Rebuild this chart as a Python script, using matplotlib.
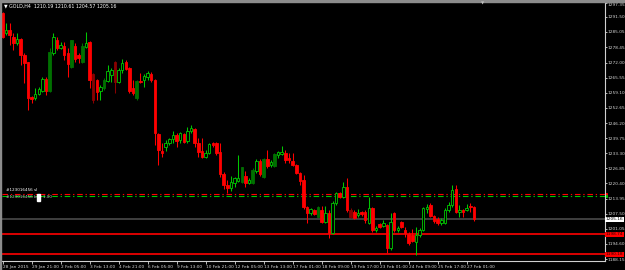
import numpy as np
import matplotlib
matplotlib.use('Agg')
from matplotlib import pyplot as plt
from matplotlib.patches import Rectangle

plt.rcParams['font.family'] = ['Liberation Sans Narrow', 'DejaVu Sans']

# GOLD H4 candles (open, high, low, close)
opens = [1293.2, 1284.6, 1285.9, 1282.9, 1280.3, 1282.1, 1275.2, 1272.2, 1257.3, 1256.9,
         1258.6, 1259.9, 1265.0, 1259.9, 1276.1, 1281.6, 1278.2, 1279.1, 1276.1, 1270.1,
         1279.1, 1275.2, 1272.2, 1278.6, 1280.8, 1267.1, 1264.6, 1259.9, 1261.1, 1264.1,
         1266.7, 1272.2, 1263.7, 1268.8, 1272.2, 1269.7, 1261.1, 1256.9, 1264.1, 1264.6,
         1265.8, 1267.1, 1264.6, 1241.5, 1234.3, 1236.0, 1237.7, 1239.4, 1241.1, 1238.9,
         1241.5, 1238.5, 1242.8, 1243.6, 1237.7, 1234.3, 1231.7, 1233.4, 1237.7, 1237.7,
         1233.8, 1224.4, 1219.7, 1218.5, 1220.6, 1221.4, 1221.0, 1223.6, 1220.6, 1220.6,
         1225.7, 1230.0, 1223.2, 1230.8, 1228.3, 1227.9, 1232.5, 1233.0, 1233.4, 1231.3,
         1230.0, 1228.3, 1224.9, 1221.9, 1210.4, 1207.8, 1209.1, 1206.1, 1209.1, 1204.0,
         1207.8, 1199.3, 1212.1, 1216.3, 1214.6, 1218.9, 1209.1, 1208.2, 1206.9, 1208.2,
         1208.2, 1203.5, 1209.9, 1200.5, 1203.1, 1202.2, 1202.7, 1192.9, 1207.8, 1200.5,
         1204.0, 1200.5, 1198.8, 1198.4, 1195.4, 1198.4, 1200.5, 1209.5, 1211.2, 1206.5,
         1205.2, 1203.5, 1203.5, 1209.1, 1211.2, 1218.0, 1208.2, 1209.1, 1209.1, 1210.6,
         1210.19]
highs = [1293.6, 1288.9, 1288.9, 1284.6, 1284.6, 1282.5, 1276.1, 1272.2, 1257.8, 1261.1,
         1261.6, 1265.8, 1265.8, 1278.2, 1284.6, 1282.9, 1280.8, 1280.8, 1278.2, 1281.6,
         1280.3, 1276.1, 1280.3, 1285.0, 1281.2, 1267.5, 1265.0, 1262.4, 1265.4, 1271.0,
         1269.7, 1272.6, 1269.7, 1273.5, 1273.1, 1270.1, 1264.6, 1264.6, 1267.5, 1267.1,
         1268.4, 1268.0, 1265.0, 1241.9, 1237.7, 1238.9, 1239.8, 1242.8, 1241.9, 1242.4,
         1241.9, 1244.5, 1245.3, 1244.1, 1239.8, 1239.8, 1234.7, 1237.7, 1238.1, 1238.1,
         1237.7, 1225.3, 1221.9, 1223.6, 1223.2, 1232.5, 1227.4, 1225.7, 1222.7, 1227.0,
         1230.8, 1230.8, 1231.3, 1234.7, 1230.4, 1233.4, 1234.3, 1236.4, 1234.7, 1233.4,
         1233.4, 1228.7, 1225.3, 1224.0, 1210.8, 1209.9, 1209.5, 1210.8, 1210.8, 1210.8,
         1209.1, 1212.9, 1216.8, 1216.8, 1221.0, 1222.7, 1209.9, 1209.1, 1209.5, 1208.6,
         1209.1, 1214.6, 1210.4, 1202.2, 1203.5, 1204.8, 1203.1, 1207.8, 1208.2, 1202.2,
         1204.4, 1201.8, 1199.7, 1201.0, 1201.8, 1201.4, 1210.4, 1211.6, 1212.1, 1206.9,
         1206.1, 1205.7, 1209.9, 1212.5, 1219.7, 1219.7, 1211.2, 1209.5, 1211.6, 1212.1,
         1210.61]
lows = [1282.5, 1283.8, 1279.5, 1277.4, 1279.5, 1271.0, 1263.3, 1251.7, 1254.7, 1256.0,
        1258.2, 1259.4, 1258.2, 1259.4, 1275.2, 1277.4, 1277.8, 1273.1, 1265.8, 1269.7,
        1272.2, 1271.8, 1271.8, 1278.2, 1261.1, 1254.7, 1256.0, 1256.0, 1260.3, 1263.7,
        1263.7, 1259.0, 1263.3, 1267.5, 1268.8, 1259.0, 1258.2, 1256.0, 1263.3, 1261.6,
        1264.6, 1263.7, 1236.8, 1228.3, 1231.7, 1234.3, 1236.8, 1237.7, 1236.0, 1237.7,
        1237.7, 1237.7, 1241.9, 1236.0, 1231.7, 1231.3, 1231.3, 1233.0, 1236.0, 1232.5,
        1223.2, 1218.0, 1216.3, 1217.2, 1218.9, 1221.0, 1220.6, 1218.9, 1220.2, 1220.2,
        1224.9, 1223.6, 1222.7, 1227.0, 1227.4, 1227.4, 1231.3, 1232.5, 1229.1, 1229.1,
        1227.9, 1224.4, 1219.7, 1209.5, 1203.5, 1206.9, 1206.9, 1206.1, 1203.5, 1203.5,
        1197.1, 1198.8, 1211.2, 1214.2, 1214.2, 1208.2, 1205.7, 1205.2, 1206.1, 1206.5,
        1203.5, 1203.1, 1199.7, 1199.7, 1201.4, 1201.8, 1190.7, 1192.0, 1199.7, 1199.7,
        1201.4, 1197.5, 1194.1, 1195.4, 1189.9, 1197.5, 1200.1, 1207.8, 1206.1, 1203.5,
        1202.7, 1202.7, 1203.1, 1208.2, 1210.4, 1207.8, 1206.1, 1206.1, 1208.6, 1208.2,
        1204.57]
closes = [1282.9, 1285.9, 1283.8, 1280.3, 1282.1, 1275.2, 1271.8, 1256.9, 1256.4, 1258.6,
          1260.7, 1265.0, 1259.9, 1276.5, 1282.9, 1278.2, 1279.5, 1275.2, 1271.4, 1281.6,
          1273.5, 1273.9, 1279.1, 1280.3, 1264.6, 1256.0, 1259.4, 1261.6, 1264.6, 1268.4,
          1268.8, 1263.7, 1268.8, 1271.8, 1269.2, 1259.9, 1259.0, 1264.1, 1263.7, 1266.3,
          1267.5, 1264.6, 1241.9, 1234.7, 1233.4, 1237.7, 1239.4, 1241.1, 1238.5, 1241.9,
          1238.1, 1242.8, 1244.1, 1237.7, 1233.8, 1231.7, 1233.4, 1237.2, 1236.8, 1233.4,
          1224.4, 1219.7, 1218.5, 1221.0, 1222.7, 1222.7, 1227.4, 1220.6, 1221.9, 1226.2,
          1230.0, 1224.4, 1230.8, 1227.9, 1229.6, 1233.0, 1233.8, 1233.8, 1230.4, 1230.4,
          1228.3, 1224.9, 1221.4, 1210.4, 1207.8, 1209.5, 1207.4, 1210.4, 1204.0, 1207.8,
          1199.3, 1212.1, 1216.3, 1214.6, 1218.9, 1209.1, 1206.1, 1205.7, 1207.8, 1207.4,
          1204.8, 1209.9, 1200.5, 1201.4, 1201.8, 1203.5, 1192.9, 1204.0, 1200.5, 1201.4,
          1201.8, 1199.3, 1195.0, 1195.8, 1198.4, 1200.5, 1209.9, 1210.4, 1206.5, 1204.4,
          1203.5, 1204.8, 1209.1, 1211.2, 1217.6, 1208.2, 1209.1, 1208.2, 1209.9, 1210.2,
          1205.16]
# candles that are drawn in the darker shade
dim_bars = [13, 19, 22, 25, 28, 31, 37, 66, 69, 72, 75, 87, 96]

time_labels = ['28 Jan 2015', '29 Jan 21:00', '2 Feb 05:00', '3 Feb 13:00', '4 Feb 21:00',
               '6 Feb 05:00', '9 Feb 13:00', '10 Feb 21:00', '12 Feb 05:00', '13 Feb 13:00',
               '17 Feb 01:00', '18 Feb 09:00', '19 Feb 17:00', '23 Feb 01:00', '24 Feb 09:00',
               '25 Feb 17:00', '27 Feb 01:00']
label_step = 8

price_ticks = [1297.35, 1291.50, 1285.05, 1278.45, 1272.00, 1265.55, 1259.10, 1252.65,
               1246.20, 1239.75, 1233.30, 1226.85, 1220.40, 1213.95, 1207.50, 1201.05,
               1194.60, 1188.15]

bid_price = 1205.16
red_levels = [1198.74, 1190.18]
sl_level = 1215.77
entry_level = 1215.05

GREEN = '#00c800'
RED = '#ff0000'
DIM_GREEN = '#007000'
DIM_RED = '#8a0000'
FS = 3.1

fig = plt.figure(figsize=(6.25, 2.7), dpi=100, facecolor='black')
W, H = 625, 270
ax = fig.add_axes([2 / W, 1 - 261 / H, (604.5 - 2) / W, (261 - 3) / H])
ax.set_facecolor('black')

o = np.array(opens)
h = np.array(highs)
l = np.array(lows)
c = np.array(closes)
idx = np.arange(len(o))
up = c >= o

for i in idx:
    dim = i in dim_bars
    if up[i]:
        col = DIM_GREEN if dim else GREEN
        face = DIM_GREEN if dim else 'black'
    else:
        col = DIM_RED if dim else RED
        face = col
    ax.vlines(i, l[i], h[i], color=col, linewidth=0.75, zorder=3)
    lo_b = min(o[i], c[i])
    hi_b = max(o[i], c[i])
    height = max(hi_b - lo_b, 0.3)
    ax.bar(i, height, bottom=lo_b, width=0.7, color=face, edgecolor=col,
           linewidth=0.6, zorder=4)

# horizontal levels
ax.axhline(sl_level, color=RED, linewidth=0.8, linestyle=(0, (5, 2.5, 1.2, 2.5)), zorder=2)
ax.axhline(entry_level, color=GREEN, linewidth=0.8, linestyle=(0, (5, 2.5, 1.2, 2.5)), zorder=2)
ax.axhline(bid_price, color='#4a4a4a', linewidth=1.2, zorder=1)
for lv in red_levels:
    ax.axhline(lv, color=RED, linewidth=1.2, zorder=2)

ax.text(1.0, sl_level + 1.4, '#123016456 sl', color='white', fontsize=3.0, zorder=6)
ax.text(1.0, entry_level - 0.8, '#123016456 buy 1.00', color='#bbbbbb', fontsize=3.0, zorder=6)
ax.add_patch(Rectangle((9.4, entry_level - 2.0), 0.9, 2.8, color='white', zorder=6))

ax.set_xlim(-0.14, 166.0)
ax.set_ylim(1187.3, 1297.42)

# axes styling
for s in ['left', 'top']:
    ax.spines[s].set_visible(False)
for s in ['right', 'bottom']:
    ax.spines[s].set_color('#d0d0d0')
    ax.spines[s].set_linewidth(0.8)

ax.yaxis.tick_right()
ax.set_yticks(price_ticks)
ax.set_yticklabels([f'{p:.2f}' for p in price_ticks])
ax.tick_params(axis='y', colors='#d8d8d8', labelsize=FS, length=1.5, width=0.6, pad=0.8)
ax.get_yticklabels()[0].set_verticalalignment('top')

xt = np.arange(len(time_labels)) * label_step
ax.set_xticks(xt)
ax.set_xticklabels(time_labels)
ax.tick_params(axis='x', colors='#d8d8d8', labelsize=FS, length=2, width=0.6, pad=0.6)
for t in ax.get_xticklabels():
    t.set_horizontalalignment('left')

# price tags on the right scale
tr = ax.get_yaxis_transform()
ax.text(1.002, bid_price, f'{bid_price:.2f}', transform=tr, fontsize=FS, color='black',
        va='center', ha='left', clip_on=False, zorder=8,
        bbox=dict(boxstyle='square,pad=0.15', fc='white', ec='none'))
for lv in red_levels:
    ax.text(1.002, lv, f'{lv:.2f}', transform=tr, fontsize=FS, color='#300000',
            va='center', ha='left', clip_on=False, zorder=8,
            bbox=dict(boxstyle='square,pad=0.15', fc=RED, ec='none'))
ax.plot([1.002], [sl_level], marker='s', ms=1.2, color=RED, transform=tr, clip_on=False)
ax.plot([1.002], [entry_level], marker='s', ms=1.2, color=GREEN, transform=tr, clip_on=False)

# window frame and header
fig.add_artist(Rectangle((0, 1 - 2 / H), 1, 2 / H, transform=fig.transFigure, color='#8c8c8c'))
fig.add_artist(Rectangle((0, 0), 1.5 / W, 1, transform=fig.transFigure, color='#8c8c8c'))
fig.text(4 / W, 1 - 5.5 / H, '\u25bc GOLD,H4  1210.19 1210.61 1204.57 1205.16',
         color='white', fontsize=3.4, va='center', ha='left')
fig.text(483 / W, 1 - 3.5 / H, '\u25bc', color='#c0c0c0', fontsize=3.0, va='center', ha='center')

plt.savefig('out.png', dpi=100, facecolor='black')
